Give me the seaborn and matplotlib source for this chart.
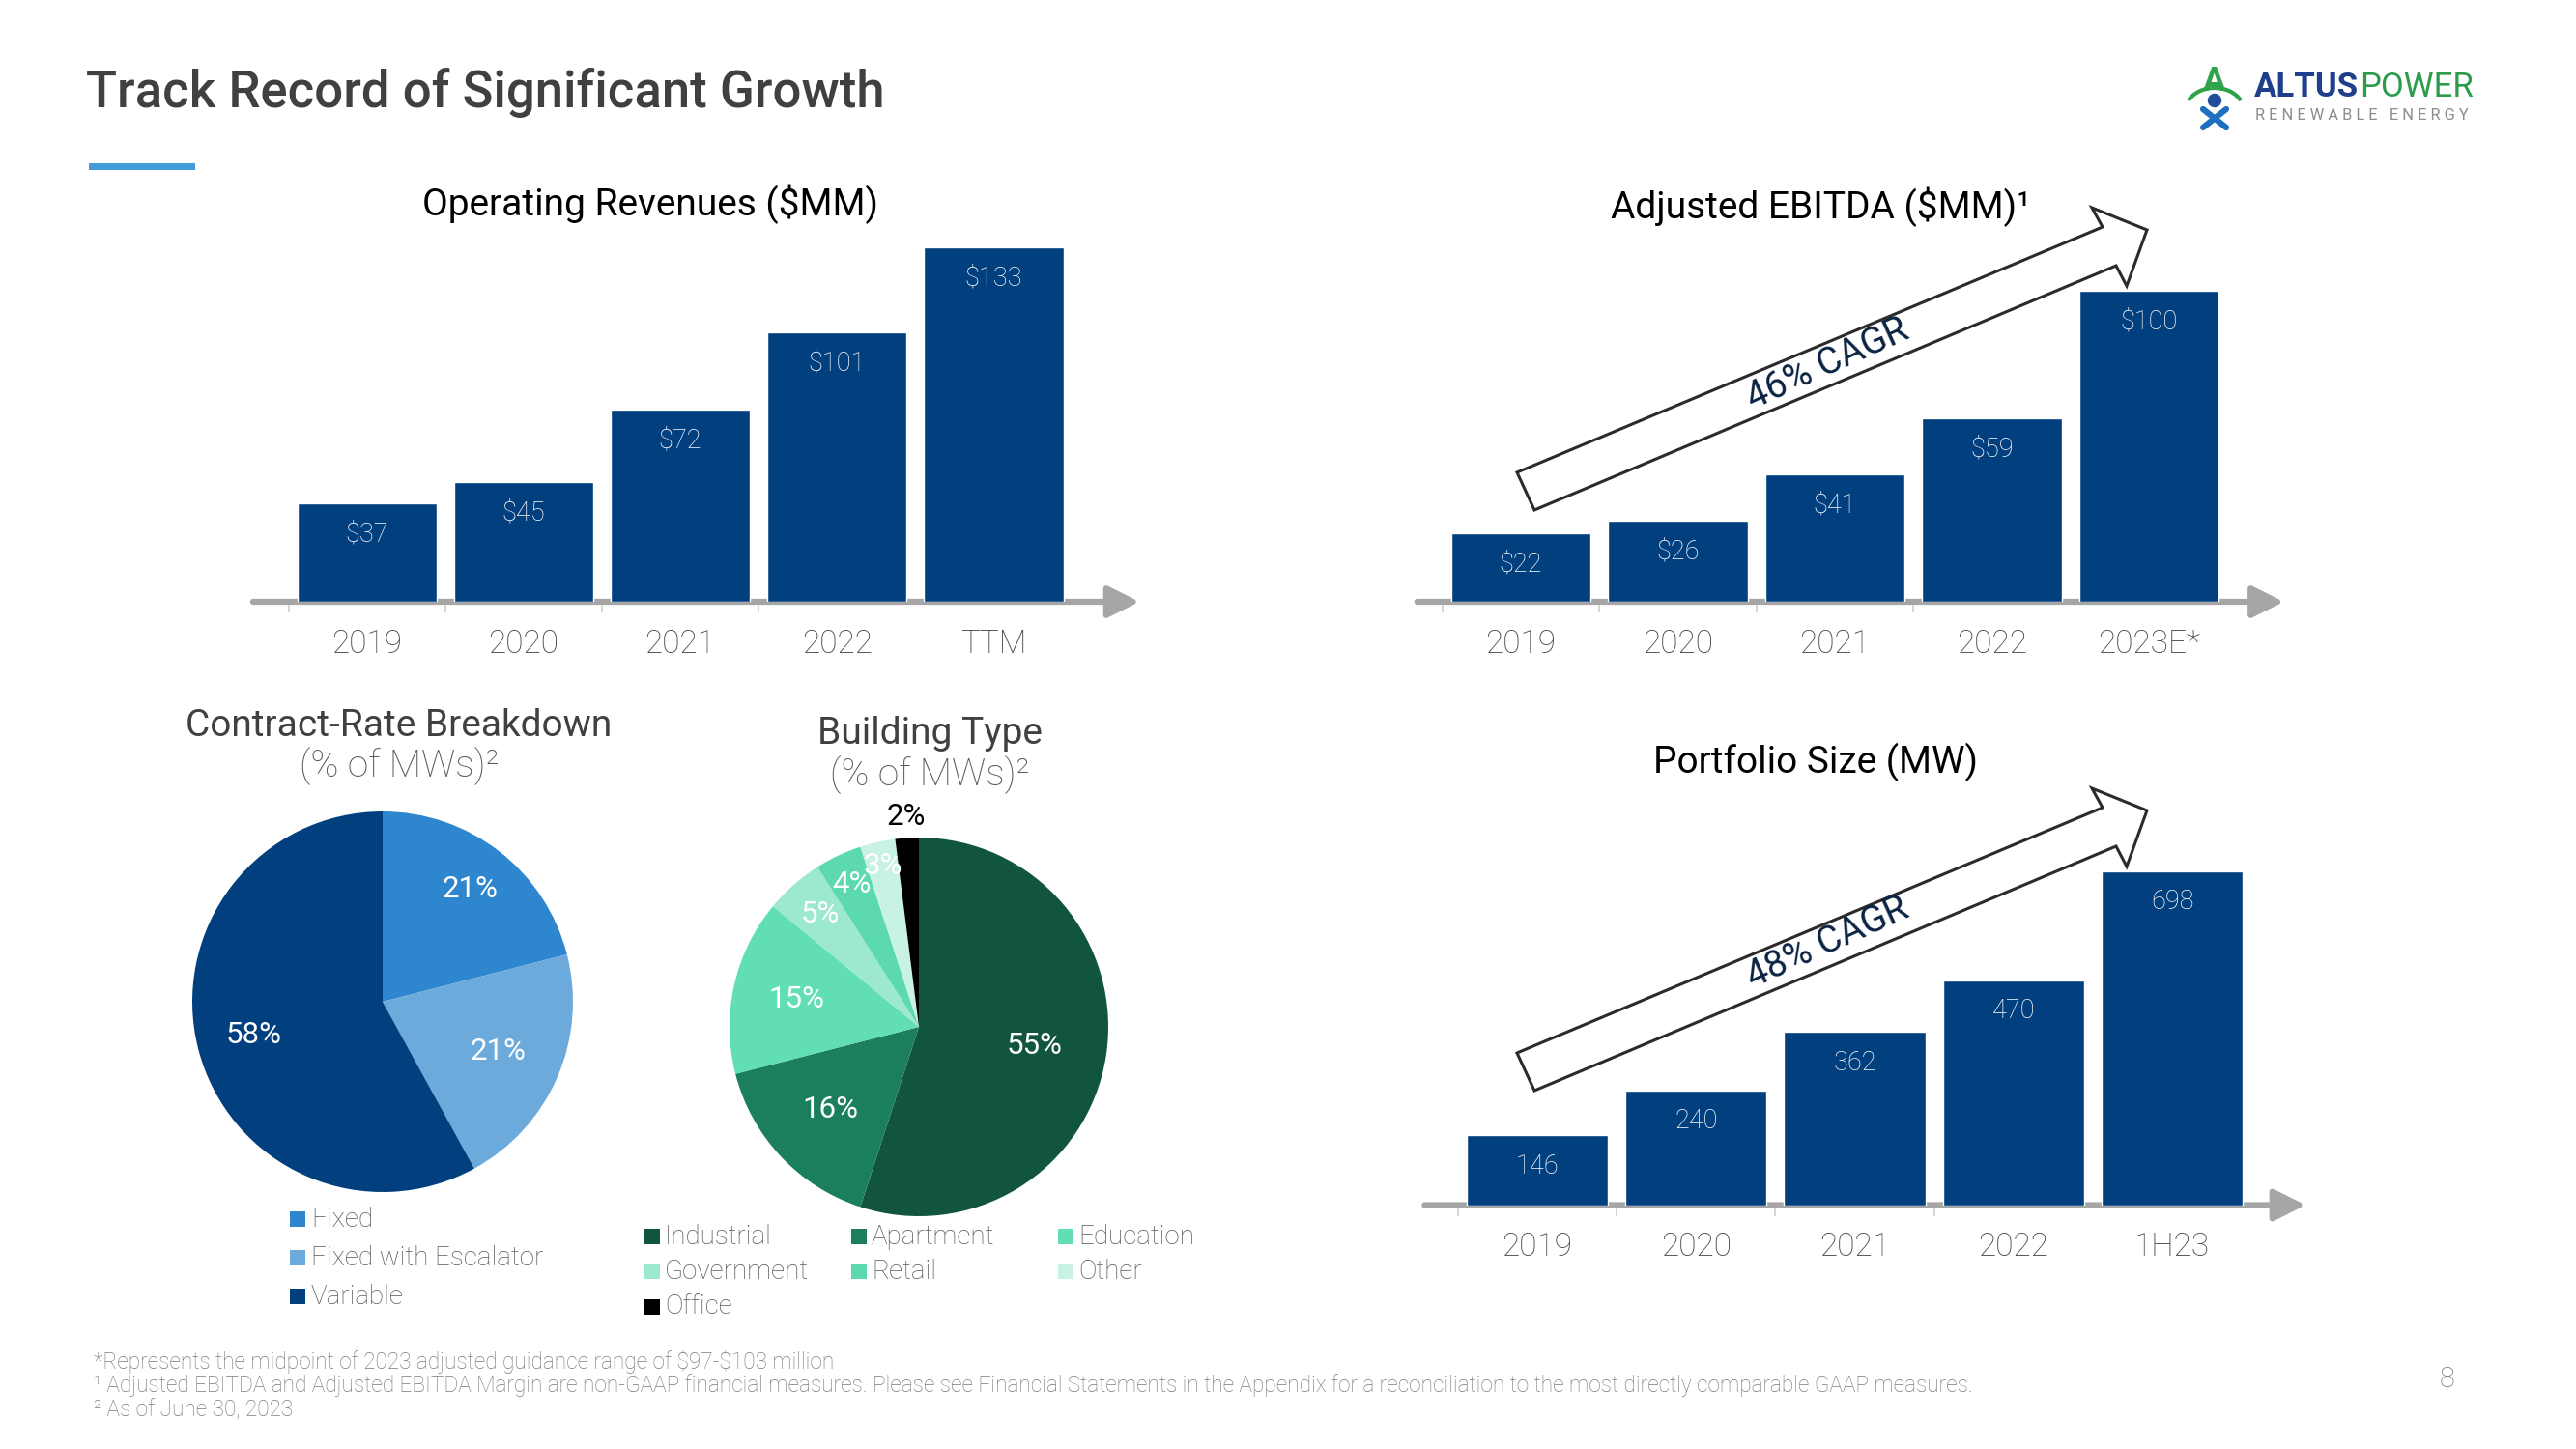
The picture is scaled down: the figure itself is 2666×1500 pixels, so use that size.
import numpy as np
import pandas as pd
import matplotlib
matplotlib.use("Agg")
import matplotlib.pyplot as plt
from matplotlib.patches import Polygon, Rectangle, Circle, Arc
import seaborn as sns

# ---------------- data ----------------
rev_cats = ["2019", "2020", "2021", "2022", "TTM"]
rev_vals = [37, 45, 72, 101, 133]

ebitda_cats = ["2019", "2020", "2021", "2022", "2023E*"]
ebitda_vals = [22, 26, 41, 59, 100]

port_cats = ["2019", "2020", "2021", "2022", "1H23"]
port_vals = [146, 240, 362, 470, 698]

contract_labels = ["Fixed", "Fixed with Escalator", "Variable"]
contract_vals = [21, 21, 58]

building_labels = ["Industrial", "Apartment", "Education", "Government", "Retail", "Other", "Office"]
building_vals = [55, 16, 15, 5, 4, 3, 2]

ebitda_cagr = "46% CAGR"
port_cagr = "48% CAGR"

# ---------------- style ----------------
sns.set_theme(style="white")
plt.rcParams["font.family"] = ["Roboto", "DejaVu Sans"]

NAVY = "#023F7E"
GRAY_TXT = "#595959"
TICK_TXT = "#454545"
AXIS_GRAY = "#A6A6A6"
contract_colors = ["#2E86CE", "#6CAADC", "#023F7E"]
building_colors = ["#11553D", "#1B7F5B", "#61DEB5", "#9DE8D0", "#5CD9AE", "#C8F2E4", "#000000"]

W, H = 2666, 1500
fig = plt.figure(figsize=(W / 100, H / 100), dpi=100)
fig.patch.set_facecolor("white")


def px_axes(left, top, width, height, **kw):
    return fig.add_axes([left / W, 1 - (top + height) / H, width / W, height / H], **kw)


def bar_chart(cats, vals, fmt, center0, spacing, baseline, k, a, b, top_val):
    left = center0 + a * spacing
    width = (b - a) * spacing
    height = top_val * k
    top = baseline - height
    ax = px_axes(left, top, width, height)
    df = pd.DataFrame({"cat": cats, "val": vals})
    sns.barplot(data=df, x="cat", y="val", color=NAVY, saturation=1, width=0.89,
                ax=ax, zorder=3)
    ax.set_xlim(a, b)
    ax.set_ylim(0, top_val)
    for s in ax.spines.values():
        s.set_visible(False)
    ax.set_xlabel("")
    ax.set_ylabel("")
    ax.set_yticks([])
    ax.set_xticks(range(len(cats)))
    ax.set_xticklabels(cats, fontsize=24, color=TICK_TXT, fontweight="light")
    ax.set_xticks(np.arange(len(cats) - 1) - 0.5, minor=True)
    ax.tick_params(axis="x", which="major", length=0, pad=20)
    ax.tick_params(axis="x", which="minor", length=8, width=1.2, color="#D0D0D0",
                   direction="out", bottom=True)
    ax.set_facecolor("none")
    ax.annotate("", xy=(b, 0), xytext=(a, 0), xycoords="data",
                arrowprops=dict(arrowstyle="-|>,head_length=0.9,head_width=0.45",
                                color=AXIS_GRAY, lw=4.5, mutation_scale=22,
                                shrinkA=0, shrinkB=0),
                annotation_clip=False, zorder=2)
    for i, v in enumerate(vals):
        ax.annotate(fmt.format(v), xy=(i, v), xytext=(0, -32 * 0.72),
                    textcoords="offset points", ha="center", va="center",
                    color="white", fontsize=19.5, fontweight="light", zorder=5)
    return ax


bar_chart(rev_cats, rev_vals, "${}", 379.7, 162.2, 623, 2.761, -0.726, 4.93, 140)
bar_chart(ebitda_cats, ebitda_vals, "${}", 1574, 162.5, 623, 3.22, -0.66, 4.86, 110)
bar_chart(port_cats, port_vals, "{}", 1591, 164.3, 1247.5, 0.495, -0.71, 4.84, 740)


def pie_chart(vals, colors, cx, cy, r, label_r, label_colors):
    ax = px_axes(cx - r, cy - r, 2 * r, 2 * r)
    wedges, _ = ax.pie(vals, colors=colors, startangle=90, counterclock=False,
                       wedgeprops=dict(linewidth=0))
    ax.set_xlim(-1, 1)
    ax.set_ylim(-1, 1)
    ax.set_aspect("equal")
    ax.axis("off")
    for w, v, d, c in zip(wedges, vals, label_r, label_colors):
        th = np.deg2rad((w.theta1 + w.theta2) / 2)
        ax.text(d * np.cos(th), d * np.sin(th), f"{v}%", ha="center", va="center",
                fontsize=22.5, color=c, clip_on=False)
    return ax


pie_chart(contract_vals, contract_colors, 396, 1037, 197, [0.75, 0.66, 0.70],
          ["white", "white", "white"])
pie_chart(building_vals, building_colors, 951, 1063, 196,
          [0.62, 0.64, 0.66, 0.79, 0.83, 0.87, 1.11],
          ["white"] * 6 + ["black"])

# ---------------- overlay (pixel coordinates) ----------------
ov = fig.add_axes([0, 0, 1, 1], zorder=10)
ov.set_xlim(0, W)
ov.set_ylim(H, 0)
ov.axis("off")
ov.patch.set_alpha(0)

# page title
ov.text(89, 96, "Track Record of Significant Growth", fontsize=38, color="#404040",
        fontweight="medium", ha="left", va="center")
ov.add_patch(Rectangle((92, 169), 110, 7, color="#439BD8", lw=0))

# chart titles
TS = 28
ov.text(673, 211, "Operating Revenues ($MM)", fontsize=TS, color="black",
        ha="center", va="center")
ov.text(1884, 214, "Adjusted EBITDA ($MM)\u00b9", fontsize=TS, color="black",
        ha="center", va="center")
ov.text(1879, 789, "Portfolio Size (MW)", fontsize=TS, color="black",
        ha="center", va="center")
ov.text(413, 752, "Contract-Rate Breakdown", fontsize=TS, color="#404040",
        ha="center", va="center")
ov.text(413, 793, "(% of MWs)\u00b2", fontsize=TS, color=GRAY_TXT,
        fontweight="light", ha="center", va="center")
ov.text(962, 760, "Building Type", fontsize=TS, color="#404040",
        ha="center", va="center")
ov.text(962, 802, "(% of MWs)\u00b2", fontsize=TS, color=GRAY_TXT,
        fontweight="light", ha="center", va="center")

# hollow CAGR arrows
arrow_shape = np.array([
    [1570, 489], [2176, 235], [2165, 215], [2222, 238],
    [2201, 296], [2190, 275], [1588, 528],
])
for dy, txt, ty in [(0, ebitda_cagr, 377), (601, port_cagr, 976)]:
    pts = arrow_shape + np.array([0, dy])
    ov.add_patch(Polygon(pts, closed=True, fc="white", ec="#2B2B2B", lw=2.2,
                         joinstyle="miter", zorder=4))
    ov.text(1891, ty, txt, fontsize=27.5, color="#0B2343", rotation=24.5,
            rotation_mode="anchor", ha="center", va="center", zorder=5)

# legends (manual swatches)
sq = 16
LS = 20
for i, (lab, col) in enumerate(zip(contract_labels, contract_colors)):
    y = 1262 + i * 40
    ov.add_patch(Rectangle((300, y - sq / 2), sq, sq, color=col, lw=0))
    ov.text(322, y, lab, fontsize=LS, color=GRAY_TXT, fontweight="light",
            ha="left", va="center")

col_x = [667, 881, 1095]
row_y = [1280, 1316, 1353]
for i, (lab, col) in enumerate(zip(building_labels, building_colors)):
    x = col_x[i % 3]
    y = row_y[i // 3]
    ov.add_patch(Rectangle((x, y - sq / 2), sq, sq, color=col, lw=0))
    ov.text(x + 21, y, lab, fontsize=LS, color=GRAY_TXT, fontweight="light",
            ha="left", va="center")

# footnotes
foot = [
    "*Represents the midpoint of 2023 adjusted guidance range of \\$97-\\$103 million",
    "\u00b9 Adjusted EBITDA and Adjusted EBITDA Margin are non-GAAP financial measures. "
    "Please see Financial Statements in the Appendix for a reconciliation to the most "
    "directly comparable GAAP measures.",
    "\u00b2 As of June 30, 2023",
]
for t, y in zip(foot, [1409, 1434, 1460]):
    ov.text(97, y, t, fontsize=16.3, color="#7A7A7A", fontweight="light",
            ha="left", va="center")
ov.text(2533, 1428, "8", fontsize=21, color="#7A7A7A", fontweight="light",
        ha="center", va="center")

# logo
ov.text(2292, 84, "A", fontsize=25, color="#2FA34A", fontweight="bold",
        ha="center", va="center")
ov.add_patch(Arc((2292, 114), 60, 46, theta1=200, theta2=340, color="#2FA34A", lw=3))
ov.add_patch(Circle((2292, 104), 6.5, color="#1F4E9C"))
ov.plot([2280, 2304], [113, 132], color="#1F6FC0", lw=4.5, solid_capstyle="round")
ov.plot([2304, 2280], [113, 132], color="#1F6FC0", lw=4.5, solid_capstyle="round")
t1 = ov.text(2333, 90, "ALTUS", fontsize=25, color="#1F3E8C", fontweight="bold",
             ha="left", va="center")
fig.canvas.draw()
bb = t1.get_window_extent()
x_end = bb.x1  # display pixels == figure pixels (dpi 100)
ov.text(x_end + 1, 90, "POWER", fontsize=25, color="#2D9C4A", ha="left", va="center")
ov.text(2334, 119, "R E N E W A B L E   E N E R G Y", fontsize=11.8, color="#8C8C8C",
        ha="left", va="center")

fig.savefig("out.png", dpi=100, facecolor="white")
